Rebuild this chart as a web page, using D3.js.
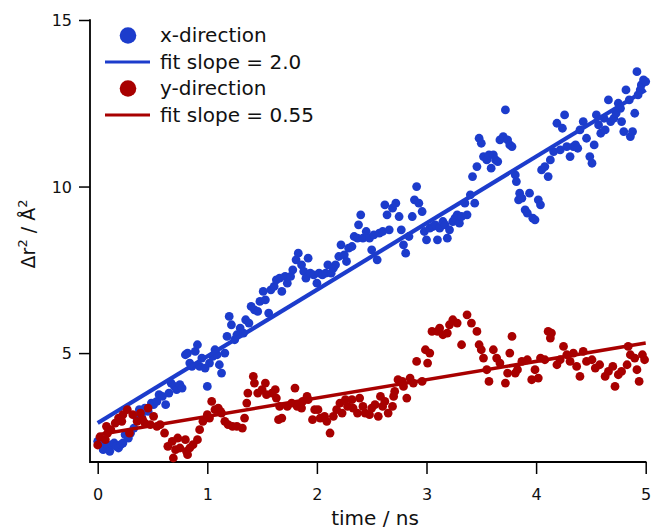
<!DOCTYPE html>
<html>
<head>
<meta charset="utf-8">
<script src="https://cdn.jsdelivr.net/npm/d3@7"></script>
<style>
  html, body { margin: 0; padding: 0; background: #fff; }
  svg { display: block; font-family: "DejaVu Sans", sans-serif; }
</style>
</head>
<body>
<svg id="chart" width="652" height="529"></svg>
<script>
// ---- data ----
const xDirTimes = [0.00,0.03,0.05,0.07,0.09,0.11,0.13,0.15,0.17,0.19,0.21,0.23,0.25,0.28,0.30,0.33,0.36,0.38,0.40,0.43,0.46,0.49,0.51,0.54,0.56,0.59,0.62,0.65,0.67,0.70,0.72,0.75,0.77,0.80,0.82,0.84,0.86,0.89,0.91,0.93,0.95,0.98,1.00,1.02,1.05,1.07,1.09,1.11,1.13,1.16,1.18,1.20,1.22,1.25,1.27,1.30,1.33,1.35,1.38,1.40,1.43,1.46,1.48,1.51,1.53,1.56,1.58,1.61,1.63,1.66,1.68,1.71,1.73,1.76,1.78,1.81,1.83,1.86,1.88,1.90,1.92,1.94,1.97,2.00,2.02,2.05,2.08,2.10,2.13,2.15,2.17,2.20,2.22,2.25,2.27,2.29,2.32,2.34,2.37,2.38,2.40,2.42,2.45,2.48,2.50,2.52,2.55,2.57,2.60,2.62,2.64,2.66,2.69,2.72,2.75,2.77,2.79,2.81,2.84,2.87,2.89,2.91,2.93,2.96,2.98,3.00,3.03,3.06,3.08,3.10,3.12,3.15,3.17,3.19,3.21,3.24,3.26,3.28,3.30,3.32,3.35,3.37,3.40,3.42,3.44,3.46,3.48,3.50,3.52,3.55,3.57,3.59,3.61,3.63,3.65,3.67,3.70,3.72,3.74,3.76,3.78,3.81,3.82,3.84,3.85,3.87,3.90,3.92,3.94,3.97,3.99,4.02,4.04,4.05,4.08,4.11,4.13,4.16,4.19,4.22,4.24,4.26,4.28,4.31,4.34,4.36,4.38,4.40,4.43,4.46,4.49,4.51,4.53,4.55,4.57,4.59,4.62,4.63,4.66,4.68,4.71,4.73,4.75,4.77,4.78,4.80,4.82,4.85,4.86,4.88,4.90,4.92,4.93,4.95,4.96,4.98,5.00];
const xDirValues = [2.35,2.40,2.10,2.30,2.20,2.05,2.25,2.30,2.20,2.15,2.25,2.30,2.55,2.45,2.60,2.75,3.00,3.30,3.10,3.35,3.25,3.50,3.45,3.55,3.75,3.70,3.45,3.80,4.10,4.00,3.90,4.05,3.95,4.95,5.00,4.70,4.60,5.05,5.25,4.60,4.85,4.55,4.00,4.70,4.90,5.10,4.95,4.65,4.40,5.00,5.50,6.10,5.85,5.40,5.55,5.75,5.60,6.00,5.90,6.40,6.30,6.25,6.55,6.85,6.60,6.20,6.90,7.00,7.20,7.25,6.85,7.30,7.10,7.30,7.50,7.80,8.00,7.65,7.45,7.25,7.85,7.40,7.35,7.10,7.40,7.35,7.40,7.65,7.40,7.55,7.65,7.90,8.25,7.95,7.75,8.15,8.20,8.50,8.45,8.85,9.15,8.45,8.65,8.45,8.10,8.55,7.80,8.60,8.65,9.45,9.15,8.70,9.35,9.50,9.10,8.70,8.25,8.00,8.50,9.10,9.60,10.00,9.50,9.25,8.65,8.40,8.75,8.80,8.85,8.40,8.75,8.95,8.85,8.45,8.70,8.95,9.05,9.15,8.90,9.10,9.50,9.15,9.75,10.30,9.50,10.60,11.45,11.30,10.90,10.80,10.95,10.55,10.95,10.80,10.75,11.40,11.50,12.30,11.40,11.25,11.20,10.35,10.15,9.60,9.80,9.65,9.30,9.20,9.80,9.05,9.00,9.60,9.45,10.50,10.60,10.30,10.80,11.05,11.90,11.10,11.75,12.15,11.20,10.90,11.20,11.25,11.15,11.70,11.95,11.45,10.90,10.70,11.25,12.15,11.85,11.60,12.05,11.70,12.60,11.95,12.05,12.20,12.50,12.35,11.95,11.65,12.90,12.60,11.50,11.65,12.20,13.45,12.75,12.90,13.05,13.20,13.15];

const yDirTimes = [0.00,0.02,0.07,0.08,0.09,0.12,0.16,0.19,0.22,0.23,0.27,0.29,0.32,0.36,0.39,0.41,0.43,0.46,0.48,0.51,0.54,0.57,0.61,0.64,0.68,0.69,0.71,0.73,0.75,0.80,0.81,0.82,0.84,0.87,0.91,0.93,0.96,1.00,1.02,1.04,1.07,1.10,1.12,1.13,1.16,1.19,1.23,1.27,1.32,1.34,1.36,1.37,1.42,1.43,1.46,1.50,1.53,1.54,1.59,1.62,1.63,1.65,1.66,1.68,1.73,1.77,1.80,1.82,1.85,1.86,1.87,1.91,1.92,1.96,1.98,2.01,2.03,2.07,2.09,2.12,2.15,2.18,2.21,2.23,2.26,2.28,2.32,2.33,2.37,2.39,2.42,2.44,2.48,2.50,2.53,2.56,2.58,2.60,2.62,2.65,2.69,2.70,2.71,2.74,2.78,2.79,2.82,2.85,2.88,2.91,2.96,2.99,3.01,3.03,3.05,3.10,3.12,3.15,3.19,3.21,3.24,3.28,3.32,3.37,3.41,3.46,3.48,3.50,3.52,3.55,3.57,3.61,3.64,3.67,3.72,3.74,3.76,3.78,3.81,3.83,3.87,3.92,3.96,3.99,4.02,4.04,4.08,4.11,4.13,4.14,4.19,4.22,4.25,4.28,4.31,4.34,4.37,4.40,4.43,4.46,4.51,4.54,4.58,4.63,4.66,4.70,4.72,4.75,4.78,4.83,4.84,4.86,4.90,4.92,4.94,4.97,4.99];
const yDirValues = [2.24,2.48,2.40,2.80,2.60,2.70,2.90,3.05,2.95,3.15,3.30,2.60,3.15,2.95,3.20,3.00,2.90,3.35,2.85,3.10,2.80,2.85,2.60,2.20,2.35,1.85,2.10,2.45,2.15,2.40,2.05,1.95,2.15,2.25,2.40,2.70,2.95,3.15,3.05,3.55,3.30,3.35,3.25,3.20,2.95,2.85,2.80,2.80,2.75,3.05,3.50,3.80,4.30,4.10,3.80,3.90,4.10,3.75,3.80,3.90,3.65,3.00,3.40,3.05,3.40,3.50,3.95,3.40,3.45,3.35,3.55,3.70,3.60,3.00,3.30,3.30,3.05,3.10,2.95,2.60,3.10,3.30,3.50,3.20,3.60,3.40,3.60,3.35,3.20,3.65,3.40,3.20,3.15,3.35,3.45,3.10,3.70,3.40,3.55,3.20,3.40,3.70,3.85,4.20,4.15,4.00,3.65,4.25,4.10,4.75,4.15,5.10,4.70,5.00,5.65,5.65,5.75,5.55,5.60,5.85,6.00,5.90,5.25,6.15,5.90,5.65,5.25,5.10,4.85,4.50,4.15,5.10,4.85,4.70,4.10,4.40,5.00,5.50,4.40,4.50,4.75,4.80,4.20,4.50,4.25,4.85,4.80,5.65,5.45,5.60,4.65,4.80,5.20,4.95,4.75,5.00,4.60,4.30,5.05,4.75,4.80,4.55,4.65,4.30,4.45,4.60,4.00,4.35,4.45,4.65,5.20,4.95,4.85,4.50,4.15,4.95,4.80];

const fitTimes = [0, 5];
const xFitValues = [2.9, 12.9];
const yFitValues = [2.55, 5.3];

const xTickValues = [0, 1, 2, 3, 4, 5];
const yTickValues = [5, 10, 15];

const legendLabels = ["x-direction", "fit slope = 2.0", "y-direction", "fit slope = 0.55"];

// ---- styling ----
const BLUE = "#1c3ccc";
const RED = "#a80000";

const svg = d3.select("#chart");

const x = d3.scaleLinear().domain([0, 5]).range([97.7, 645.7]);
const y = d3.scaleLinear().domain([1.73, 15]).range([462, 20]);

// axes
const xAxis = d3.axisBottom(x).tickValues(xTickValues).tickSize(12).tickSizeOuter(0).tickFormat(d3.format("d"));
const gx = svg.append("g").attr("transform", "translate(0,462)").call(xAxis);
gx.select(".domain").remove();
gx.selectAll(".tick line").attr("stroke", "#000").attr("stroke-width", 1.5);
gx.selectAll(".tick text").attr("y", 38).attr("dy", 0).attr("font-size", 16).attr("fill", "#111")
  .attr("font-family", "DejaVu Sans, sans-serif");

const yAxis = d3.axisLeft(y).tickValues(yTickValues).tickSize(11).tickSizeOuter(0).tickFormat(d3.format("d"));
const gy = svg.append("g").attr("transform", "translate(90,0)").call(yAxis);
gy.select(".domain").remove();
gy.selectAll(".tick line").attr("stroke", "#000").attr("stroke-width", 1.5);
gy.selectAll(".tick text").attr("x", -18).attr("dy", "0.36em").attr("font-size", 16).attr("fill", "#111")
  .attr("font-family", "DejaVu Sans, sans-serif");

// axis lines
svg.append("line").attr("x1", 90).attr("x2", x(5) + 0.75).attr("y1", 462).attr("y2", 462)
  .attr("stroke", "#000").attr("stroke-width", 1.8);
svg.append("line").attr("x1", 90).attr("x2", 90).attr("y1", y(15) - 0.75).attr("y2", 462.9)
  .attr("stroke", "#000").attr("stroke-width", 1.8);

// axis titles
svg.append("text").attr("x", 375).attr("y", 525).attr("text-anchor", "middle")
  .attr("font-size", 20).attr("fill", "#111").text("time / ns");

const yl = svg.append("text").attr("transform", "translate(35,234) rotate(-90)")
  .attr("text-anchor", "middle").attr("font-size", 19).attr("fill", "#111");
yl.append("tspan").text("Δr");
yl.append("tspan").attr("font-size", 13).attr("dy", -8).text("2");
yl.append("tspan").attr("dy", 8).text(" / Å");
yl.append("tspan").attr("font-size", 13).attr("dy", -8).text("2");

// data
const xPts = xDirTimes.map((t, i) => [t, xDirValues[i]]);
const yPts = yDirTimes.map((t, i) => [t, yDirValues[i]]);
const line = d3.line().x(d => x(d[0])).y(d => y(d[1]));

svg.append("g").selectAll("circle").data(xPts).join("circle")
  .attr("cx", d => x(d[0])).attr("cy", d => y(d[1])).attr("r", 4.4).attr("fill", BLUE);
svg.append("path").datum(fitTimes.map((t, i) => [t, xFitValues[i]]))
  .attr("d", line).attr("stroke", BLUE).attr("stroke-width", 4.2).attr("fill", "none");

svg.append("g").selectAll("circle").data(yPts).join("circle")
  .attr("cx", d => x(d[0])).attr("cy", d => y(d[1])).attr("r", 4.4).attr("fill", RED);
svg.append("path").datum(fitTimes.map((t, i) => [t, yFitValues[i]]))
  .attr("d", line).attr("stroke", RED).attr("stroke-width", 3.5).attr("fill", "none");

// legend
const lg = svg.append("g").attr("font-size", 20).attr("fill", "#111");
const rowBase = [42, 68.5, 95, 121.5];
const kinds = ["dot", "line", "dot", "line"];
const cols = [BLUE, BLUE, RED, RED];
legendLabels.forEach((lab, i) => {
  if (kinds[i] === "dot") {
    lg.append("circle").attr("cx", 128).attr("cy", rowBase[i] - 6.5).attr("r", 8.3).attr("fill", cols[i]);
  } else {
    lg.append("line").attr("x1", 105).attr("x2", 150).attr("y1", rowBase[i] - 6.5).attr("y2", rowBase[i] - 6.5)
      .attr("stroke", cols[i]).attr("stroke-width", 3.2);
  }
  lg.append("text").attr("x", 160).attr("y", rowBase[i]).text(lab);
});
</script>
</body>
</html>
